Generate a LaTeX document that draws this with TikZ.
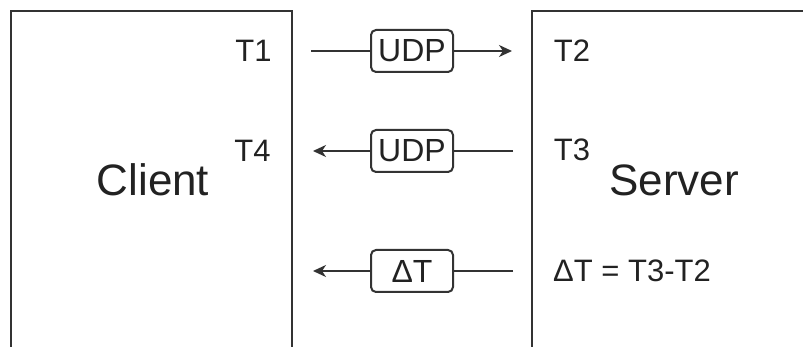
\documentclass[tikz,border=0pt]{standalone}
\usepackage{fontspec}
\setmainfont{Liberation Sans}
\usetikzlibrary{arrows.meta}
\definecolor{ln}{RGB}{51,51,51}
\definecolor{tx}{RGB}{34,34,34}
\begin{document}
\begin{tikzpicture}[x=1pt,y=-1pt,
  frame/.style={draw=ln,line width=2pt,outer sep=0pt,inner sep=0pt,anchor=north west},
  lbl/.style={inner sep=0pt,text=tx,font=\fontsize{31}{36}\selectfont},
  big/.style={inner sep=0pt,text=tx,font=\fontsize{44}{50}\selectfont},
  tag/.style={draw=ln,line width=2pt,rounded corners=5pt,fill=white,outer sep=0pt,
    minimum width=82pt,minimum height=42pt,inner sep=0pt,text=tx,font=\fontsize{32}{36}\selectfont},
  link/.style={draw=ln,line width=2pt},
  tip/.style={-{Stealth[length=13pt,width=12pt,inset=4pt]}}
]
\path[use as bounding box, clip] (0,0) rectangle (803,347);
\fill[white] (0,0) rectangle (803,347);
\node[frame, minimum width=281pt, minimum height=420pt] (client) at (11,11) {};
\node[frame, minimum width=368pt, minimum height=420pt] (server) at (532,11) {};
\node[big] (cl) at (153,180) {Client};
\node[big] (sv) at (674,180) {Server};
\node[lbl] (t1) at (253.5,51) {T1};
\node[lbl] (t4) at (252.5,151) {T4};
\node[lbl] (t2) at (572,51) {T2};
\node[lbl] (t3) at (572,150) {T3};
\node[lbl, anchor=west] (dt) at (553,271) {ΔT = T3-T2};
\node[tag] (u1) at (412,51) {UDP};
\node[tag] (u2) at (412,151) {UDP};
\node[tag] (u3) at (412,271) {ΔT};
\coordinate (s1) at (311,51); \coordinate (e1) at (512,51);
\coordinate (s2) at (513,151); \coordinate (e2) at (313,151);
\coordinate (s3) at (513,271); \coordinate (e3) at (313,271);
\draw[link] (s1) -- (u1);
\draw[link,tip] (u1) -- (e1);
\draw[link] (s2) -- (u2);
\draw[link,tip] (u2) -- (e2);
\draw[link] (s3) -- (u3);
\draw[link,tip] (u3) -- (e3);
\end{tikzpicture}
\end{document}
